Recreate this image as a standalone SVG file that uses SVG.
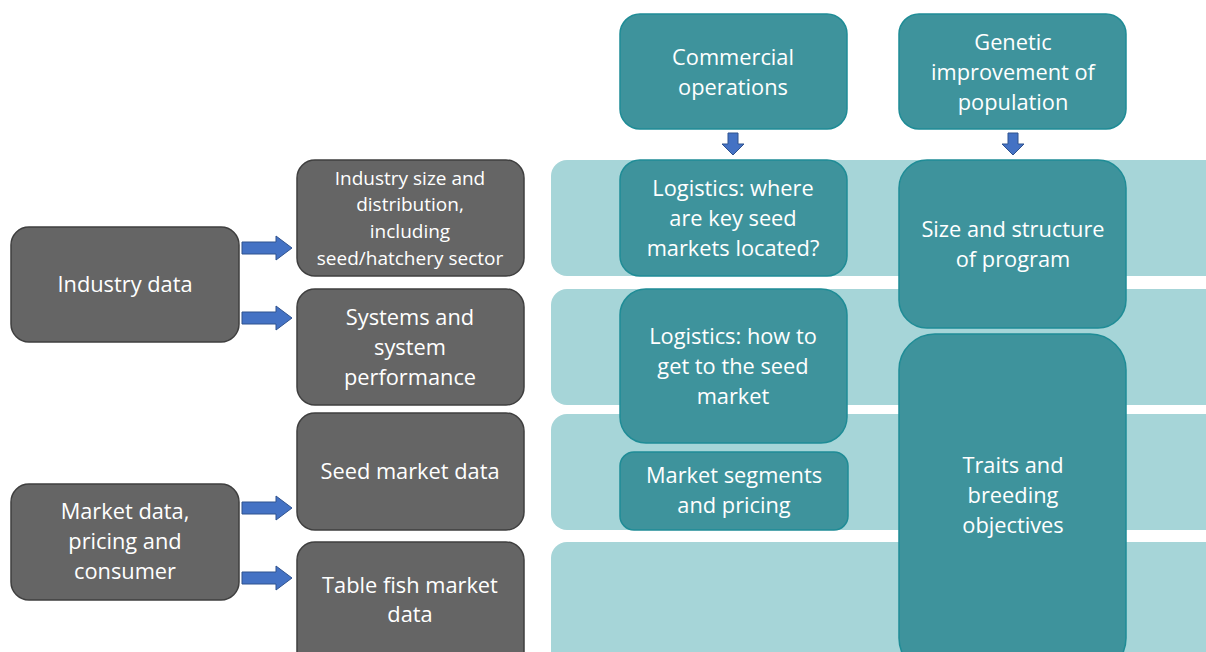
<svg xmlns="http://www.w3.org/2000/svg" width="1206" height="652" viewBox="0 0 1206 652">
<style>
.band{fill:#A6D5D8;}
.gray{fill:#656565;stroke:#3F3F3F;stroke-width:1.5;}
.teal{fill:#3E939C;stroke:#1F8C96;stroke-width:1.5;}
text{font-family:"Open Sans","Noto Sans",sans-serif;fill:#FFFFFF;text-anchor:middle;font-size:21.8px;}
.sm{font-size:19px;}
.arr{fill:#4472C4;stroke:#2F528F;stroke-width:1;}
</style>
<rect width="1206" height="652" fill="#FFFFFF"/>
<g id="bands">
<rect class="band" x="551" y="160" width="680" height="116" rx="16"/>
<rect class="band" x="551" y="289" width="680" height="116" rx="16"/>
<rect class="band" x="551" y="414" width="680" height="116" rx="16"/>
<rect class="band" x="551" y="542" width="680" height="140" rx="16"/>
</g>
<g id="commercial"><rect class="teal" x="620" y="14" width="227" height="115" rx="20"/>
<text x="733" y="65">Commercial</text><text x="733" y="95">operations</text></g>
<g id="genetic"><rect class="teal" x="899" y="14" width="227" height="115" rx="20"/>
<text x="1013" y="50">Genetic</text><text x="1013" y="80">improvement of</text><text x="1013" y="110">population</text></g>
<g id="logistics-where"><rect class="teal" x="620" y="160" width="227" height="116" rx="20"/>
<text x="733" y="196">Logistics: where</text><text x="733" y="226">are key seed</text><text x="733" y="256">markets located?</text></g>
<g id="size-structure"><rect class="teal" x="899" y="160" width="227" height="168" rx="28"/>
<text x="1013" y="237">Size and structure</text><text x="1013" y="267">of program</text></g>
<g id="logistics-how"><rect class="teal" x="620" y="289" width="227" height="154" rx="26"/>
<text x="733" y="344">Logistics: how to</text><text x="733" y="374">get to the seed</text><text x="733" y="404">market</text></g>
<g id="traits"><rect class="teal" x="899" y="334" width="227" height="340" rx="36"/>
<text x="1013" y="473">Traits and</text><text x="1013" y="503">breeding</text><text x="1013" y="533">objectives</text></g>
<g id="market-segments"><rect class="teal" x="620" y="452" width="228" height="78" rx="14"/>
<text x="734" y="483">Market segments</text><text x="734" y="513">and pricing</text></g>
<g id="industry-data"><rect class="gray" x="11" y="227" width="228" height="115" rx="18"/>
<text x="125" y="292">Industry data</text></g>
<g id="industry-size"><rect class="gray" x="297" y="160" width="227" height="116" rx="18"/>
<text class="sm" x="410" y="185">Industry size and</text><text class="sm" x="410" y="211">distribution,</text><text class="sm" x="410" y="238">including</text><text class="sm" x="410" y="265">seed/hatchery sector</text></g>
<g id="systems"><rect class="gray" x="297" y="289" width="227" height="116" rx="18"/>
<text x="410" y="325">Systems and</text><text x="410" y="355">system</text><text x="410" y="385">performance</text></g>
<g id="seed-market"><rect class="gray" x="297" y="413" width="227" height="117" rx="18"/>
<text x="410" y="479">Seed market data</text></g>
<g id="market-data"><rect class="gray" x="11" y="484" width="228" height="116" rx="18"/>
<text x="125" y="519">Market data,</text><text x="125" y="549">pricing and</text><text x="125" y="579">consumer</text></g>
<g id="table-fish"><rect class="gray" x="297" y="542" width="227" height="130" rx="18"/>
<text x="410" y="593">Table fish market</text><text x="410" y="622">data</text></g>
<g id="connectors">
<path class="arr" d="M242,242 H276 V236 L292,248 L276,260 V254 H242 Z"/>
<path class="arr" d="M242,312 H276 V306 L292,318 L276,330 V324 H242 Z"/>
<path class="arr" d="M242,502 H276 V496 L292,508 L276,520 V514 H242 Z"/>
<path class="arr" d="M242,572 H276 V566 L292,578 L276,590 V584 H242 Z"/>
<path class="arr" d="M728,133 H738 V144 H744 L733,155 L722,144 H728 Z"/>
<path class="arr" d="M1008,133 H1018 V144 H1024 L1013,155 L1002,144 H1008 Z"/>
</g>
</svg>
